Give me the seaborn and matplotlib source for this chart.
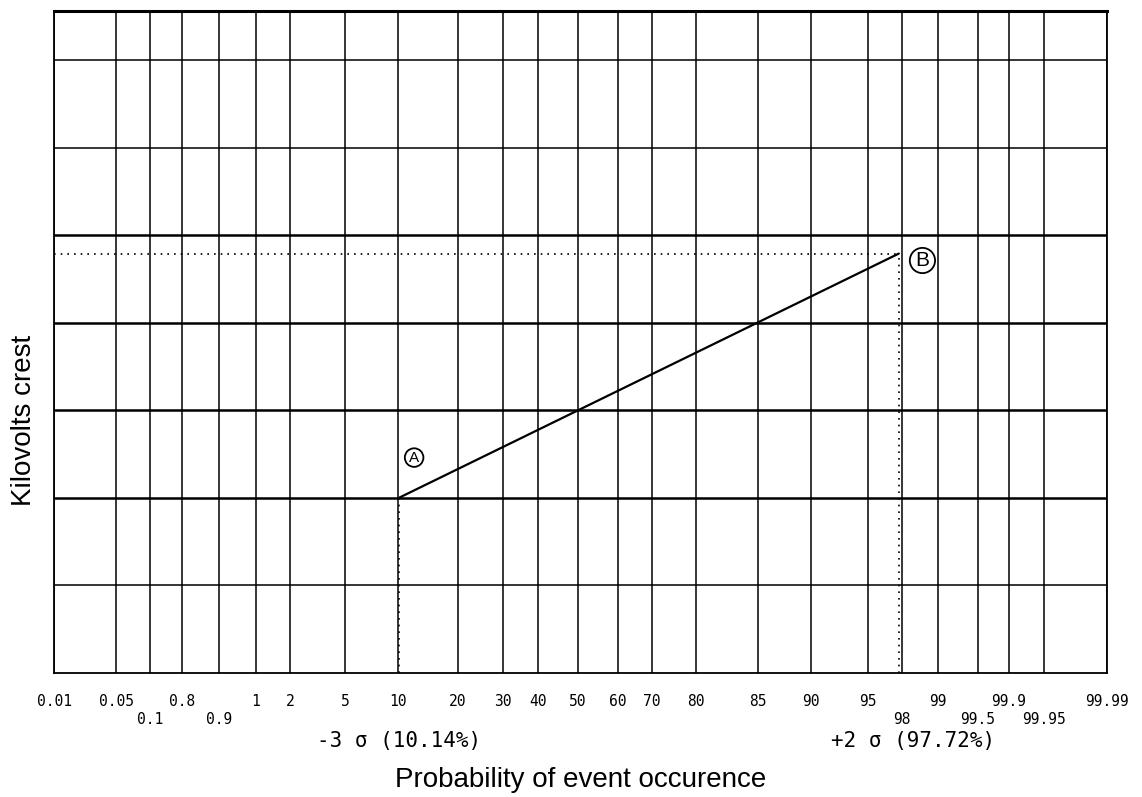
"""
plot.py
-------
Probability-paper sketch: kilovolts crest vs probability of event occurence.
"""

import matplotlib
matplotlib.use("Agg")
import matplotlib.pyplot as plt
import numpy as np
import seaborn as sns

# ──────────────────────────────────────────────────────────────
# Data
# ──────────────────────────────────────────────────────────────
# probabilities (%) printed on the upper and lower label rows
upper_probs  = [0.01, 0.05, 0.8, 1, 2, 5, 10, 20, 30, 40, 50, 60, 70, 80,
                85, 90, 95, 99, 99.9, 99.99]
upper_labels = ["0.01", "0.05", "0.8", "1", "2", "5", "10", "20", "30", "40",
                "50", "60", "70", "80", "85", "90", "95", "99", "99.9", "99.99"]
lower_probs  = [0.1, 0.9, 98, 99.5, 99.95]
lower_labels = ["0.1", "0.9", "98", "99.5", "99.95"]

# the two marked points (probability %, kV in grid units)
point_names  = ["A", "B"]
point_probs  = [10.14, 97.72]
point_kv     = [2.0, 4.79]
sigma_labels = ["-3 σ (10.14%)", "+2 σ (97.72%)"]

# horizontal rulings (kV grid units) and the heavier ones
kv_grid  = [1, 2, 3, 4, 5, 6, 7]
kv_heavy = [2, 3, 4, 5]

# ──────────────────────────────────────────────────────────────
# Paper scale: where each probability ruling sits across the sheet
# ──────────────────────────────────────────────────────────────
all_probs = sorted(upper_probs + lower_probs)
paper_pos = np.array([54, 116, 150, 182, 219, 256, 290, 345, 398, 458, 503,
                      538, 578, 618, 652, 696, 758, 811, 868, 902, 938, 978,
                      1009, 1044, 1107], dtype=float)
paper_pos = (paper_pos - paper_pos[0]) / (paper_pos[-1] - paper_pos[0])


def to_paper(p):
    return np.interp(p, all_probs, paper_pos)


def from_paper(x):
    return np.interp(x, paper_pos, all_probs)


# ──────────────────────────────────────────────────────────────
# Figure
# ──────────────────────────────────────────────────────────────
sns.set_theme(style="white")
plt.rcParams["font.family"] = ["Liberation Sans", "DejaVu Sans"]
plt.rcParams["text.color"] = "black"
plt.rcParams["axes.labelcolor"] = "black"
plt.rcParams["xtick.color"] = "black"

fig = plt.figure(figsize=(11.42, 7.97), dpi=100)
ax = fig.add_axes([54 / 1142, 1 - 673 / 797, (1107 - 54) / 1142, (673 - 11) / 797])

ax.set_xscale("function", functions=(to_paper, from_paper))
ax.set_xlim(all_probs[0], all_probs[-1])
ax.set_ylim(0, 7.56)

# rulings
ax.set_xticks(upper_probs, upper_labels)
ax.set_xticks(lower_probs, lower_labels, minor=True)
ax.set_yticks(kv_grid, [])
ax.grid(True, which="both", axis="x", color="black", linewidth=1.1)
ax.grid(True, which="major", axis="y", color="black", linewidth=1.1)
for val, gl in zip(kv_grid, ax.get_ygridlines()):
    if val in kv_heavy:
        gl.set_linewidth(1.8)
ax.set_axisbelow(True)

ax.tick_params(axis="both", which="both", length=0)
ax.tick_params(axis="x", which="major", pad=15)
ax.tick_params(axis="x", which="minor", pad=28)
for lbl in ax.get_xticklabels(which="both"):
    lbl.set_family("DejaVu Sans Mono")
    lbl.set_fontsize(10.5)

for side in ["left", "right", "bottom"]:
    ax.spines[side].set_color("black")
    ax.spines[side].set_linewidth(1.3)
ax.spines["top"].set_color("black")
ax.spines["top"].set_linewidth(2.2)

# the A-B line
sns.lineplot(x=point_probs, y=point_kv, color="black", linewidth=1.6, ax=ax)

# dotted projections
ax.vlines(point_probs, 0, point_kv, colors="black", linestyles=(0, (1, 3)),
          linewidth=1.2)
ax.hlines(point_kv[1], all_probs[0], point_probs[1], colors="black",
          linestyles=(0, (1, 3)), linewidth=1.2)

# circled letters
offsets = [(11, 29), (17, -5)]
sizes = [11, 15]
for name, px, kv, off, fs in zip(point_names, point_probs, point_kv, offsets, sizes):
    ax.annotate(name, xy=(px, kv), xytext=off, textcoords="offset points",
                ha="center", va="center", fontsize=fs,
                bbox=dict(boxstyle="circle,pad=0.15", fc="white", ec="black",
                          lw=1.3))

# sigma notes under the axis
note_shift = [0, 10]
for txt, px, dx in zip(sigma_labels, point_probs, note_shift):
    ax.annotate(txt, xy=(px, 0), xycoords=("data", "axes fraction"),
                xytext=(dx, -49), textcoords="offset points",
                ha="center", va="center", fontsize=15,
                family="DejaVu Sans Mono")

ax.set_xlabel("Probability of event occurence", fontsize=20, labelpad=29)
ax.set_ylabel("Kilovolts crest", fontsize=20)
ax.yaxis.set_label_coords(-0.016, 0.382)

fig.savefig("out.png", dpi=100)
plt.close(fig)
